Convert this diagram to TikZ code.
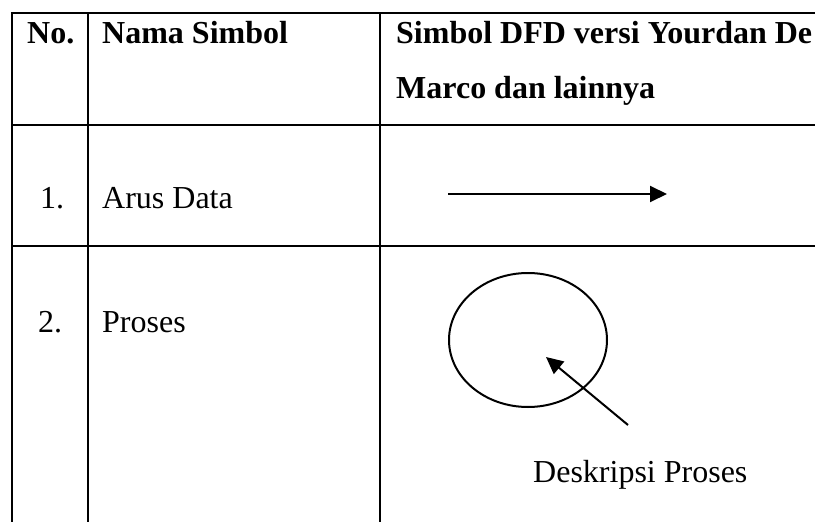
\documentclass[tikz,border=0pt]{standalone}
\usepackage{fontspec}
\setmainfont{Liberation Serif}
\usetikzlibrary{arrows.meta,shapes.geometric}

\begin{document}
\begin{tikzpicture}[x=1pt,y=-1pt,
  tbl/.style={black, line width=2.2pt},
  cell/.style={anchor=base west, inner sep=0pt, font=\fontsize{32}{38}\selectfont},
  head/.style={cell, font=\fontsize{32}{38}\selectfont\bfseries},
  flow/.style={line width=2pt, -{Triangle[length=17pt,width=16pt]}}]
\useasboundingbox (0,0) rectangle (815,522);
\clip (0,0) rectangle (815,522);
% table rules
\draw[tbl] (10.9,13) -- (815,13);
\draw[tbl] (12,125) -- (815,125);
\draw[tbl] (12,246) -- (815,246);
\draw[tbl] (12,13) -- (12,522);
\draw[tbl] (88,13) -- (88,522);
\draw[tbl] (380,13) -- (380,522);
% header
\node[head] (no) at (27,43) {No.};
\node[head] (nama) at (102,43) {Nama Simbol};
\node[head] (simbol) at (396,43) {Simbol DFD versi Yourdan De};
\node[head] (marco) at (396,98) {Marco dan lainnya};
% row 1
\node[cell] (n1) at (40,208) {1.};
\node[cell] (arus) at (102,208) {Arus Data};
\coordinate (flowA) at (448,194);
\coordinate (flowB) at (667,194);
\draw[flow] (flowA) -- (flowB);
% row 2
\node[cell] (n2) at (38,332) {2.};
\node[cell] (proses) at (102,332) {Proses};
\node[draw, ellipse, line width=2pt, inner sep=0pt,
  minimum width=158pt, minimum height=134pt] (bubble) at (528,340) {};
\coordinate (descTail) at (628,425);
\coordinate (descTip) at (546,357);
\draw[flow] (descTail) -- (descTip);
\node[cell] (desc) at (533,482) {Deskripsi Proses};
\end{tikzpicture}
\end{document}
